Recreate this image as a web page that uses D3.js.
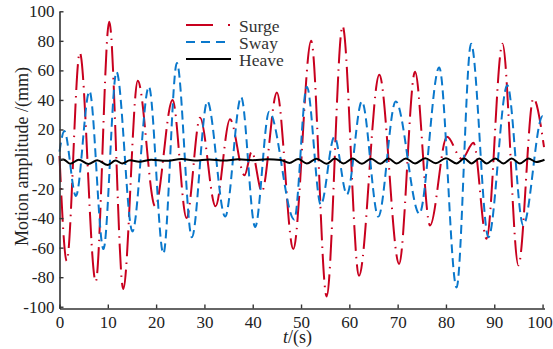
<!DOCTYPE html>
<html>
<head>
<meta charset="utf-8">
<script src="https://cdn.jsdelivr.net/npm/d3@7"></script>
<style>
    body { margin: 0; background: #fff; }
    svg { display: block; font-family: "Liberation Serif", "Times New Roman", serif; }
</style>
</head>
<body>
<div id="chart"></div>
<script>
// Surge (red), extremes
const surge_t = [0, 1.5, 4.2, 7.5, 10.3, 13.2, 16.2, 19.8, 23.4, 26.3, 29.1, 32.3, 35.3, 38.3, 39.8, 41.9, 45.0, 48.4,
    52.1, 55.3, 58.6, 62.0, 66.2, 70.3, 73.6, 76.7, 80.2, 83.3, 85.7, 88.4, 91.7, 95.0, 98.1, 100.3];
const surge_v = [2, -69, 72, -83, 93, -88, 53, -32, 40, -40, 28, -32, 27, -11, 5, -22, 45, -61,
    80, -93, 90, -79, 57, -71, 59, -45, 15, 0, 11, -54, 78, -72, 41, 8];

// Sway (blue)
const sway_t = [0, 1.0, 3.4, 6.2, 9.1, 11.8, 15.1, 18.5, 21.5, 24.3, 27.4, 30.6, 34.3, 37.6, 40.5, 43.4, 48.6,
    51.2, 54.1, 56.9, 59.5, 62.6, 66.0, 69.6, 74.5, 78.6, 82.2, 85.2, 88.8, 92.7, 96.0, 100.0, 100.4];
const sway_v = [5, 19, -25, 46, -61, 59, -49, 49, -64, 65, -53, 39, -39, 42, -46, 32, -41,
    49, -31, 15, -24, 39, -39, 39, -37, 62, -87, 78, -53, 50, -45, 29, 27];

// Heave (black)
const heave_t = [0, 0.8, 2.2, 4.0, 6.0, 7.8, 10.0, 11.6, 13.0, 14.6, 16.5, 19, 22, 25.3, 28, 31, 34, 37, 40, 43,
    45.8, 47.6, 49.4, 51.2, 53.2, 55.3, 57.0, 58.8, 60.7, 62.6, 64.5, 66.4, 68.1, 69.8, 71.7, 73.6, 75.7, 77.9,
    80.0, 82.2, 83.8, 85.3, 86.9, 88.4, 90.2, 91.9, 93.6, 95.3, 97.1, 98.7, 100.4];
const heave_v = [-1, -0.3, -3.2, -0.5, -3.3, -0.8, -4, -1, -3, -0.8, -1.8, -0.5, -1.2, 0, -1, -0.3, -1, -0.2, -0.8, -0.2,
    -0.6, -2.7, 0, -3, 0.2, -3.2, 0.3, -3, 0.3, -3.2, 0.2, -3.2, 0.3, -3, 0.3, -3, 0.5, -2.8,
    0.5, -3, 0.3, -3, 0.3, -3, 0.3, -3, 0.3, -3, 0.3, -2, -0.5];

const x_ticks = [0, 10, 20, 30, 40, 50, 60, 70, 80, 90, 100];
const y_ticks = [-100, -80, -60, -40, -20, 0, 20, 40, 60, 80, 100];
const series_names = ["Surge", "Sway", "Heave"];

const width = 553;
const height = 349;
const color_surge = "#C8001E";
const color_sway = "#0A78CC";
const color_heave = "#000000";

const series = [
    {name: series_names[0], t: surge_t, v: surge_v, color: color_surge, dash: "26,6,1.5,6", legend_dash: "27,15,2,15"},
    {name: series_names[1], t: sway_t, v: sway_v, color: color_sway, dash: "9,5", legend_dash: "9,6"},
    {name: series_names[2], t: heave_t, v: heave_v, color: color_heave, dash: null, legend_dash: null}
];

const xScale = d3.scaleLinear()
    .domain([0, 100.4])
    .range([59.5, 544.5]);

const yScale = d3.scaleLinear()
    .domain([-101.2, 100])
    .range([308.5, 11.3]);

const svg = d3.select("#chart").append("svg")
    .attr("width", width)
    .attr("height", height);

// lines
const line = d3.line()
    .x(d => xScale(d[0]))
    .y(d => yScale(d[1]))
    .curve(d3.curveMonotoneX);

series.forEach(function (s) {
    const pts = s.t.map((t, i) => [t, s.v[i]]);
    svg.append("path")
        .datum(pts)
        .attr("fill", "none")
        .attr("stroke", s.color)
        .attr("stroke-width", 2)
        .attr("stroke-dasharray", s.dash)
        .attr("d", line);
});

// axes, ticks point inward, plain hyphen for negatives
const fmt = d => String(d);
const xAxis = svg.append("g")
    .attr("transform", "translate(0,308.5)")
    .call(d3.axisBottom(xScale).tickValues(x_ticks).tickFormat(fmt)
        .tickSizeInner(-4).tickSizeOuter(0).tickPadding(7));

const yAxis = svg.append("g")
    .attr("transform", "translate(59.5,0)")
    .call(d3.axisLeft(yScale).tickValues(y_ticks).tickFormat(fmt)
        .tickSizeInner(-4).tickSizeOuter(0).tickPadding(5));

[xAxis, yAxis].forEach(function (g) {
    g.select(".domain").attr("stroke", "#333").attr("stroke-width", 1.6);
    g.selectAll(".tick line").attr("stroke", "#333").attr("stroke-width", 1.4);
    g.selectAll(".tick text")
        .attr("fill", "#222")
        .style("font-family", "'Liberation Serif', serif")
        .style("font-size", "17px");
});
// keep the last x label inside the window
xAxis.selectAll(".tick text").filter(d => d === 100).attr("dx", -3);

// axis labels
svg.append("text")
    .attr("transform", "translate(27.5,156.5) rotate(-90)")
    .attr("text-anchor", "middle")
    .attr("fill", "#222")
    .style("font-size", "18px")
    .text("Motion amplitude /(mm)");

const xlabel = svg.append("text")
    .attr("x", 297.5)
    .attr("y", 343)
    .attr("text-anchor", "middle")
    .attr("fill", "#222")
    .style("font-size", "18px");
xlabel.append("tspan").style("font-style", "italic").text("t");
xlabel.append("tspan").text("/(s)");

// legend
const legend = svg.append("g").attr("transform", "translate(186,0)");
series.forEach(function (s, i) {
    const ly = 25 + i * 17;
    legend.append("line")
        .attr("x1", 0).attr("x2", 45)
        .attr("y1", ly).attr("y2", ly)
        .attr("stroke", s.color)
        .attr("stroke-width", 2)
        .attr("stroke-dasharray", s.legend_dash);
    legend.append("text")
        .attr("x", 53)
        .attr("y", ly + 7)
        .attr("fill", "#333")
        .style("font-size", "17.5px")
        .text(s.name);
});
</script>
</body>
</html>
